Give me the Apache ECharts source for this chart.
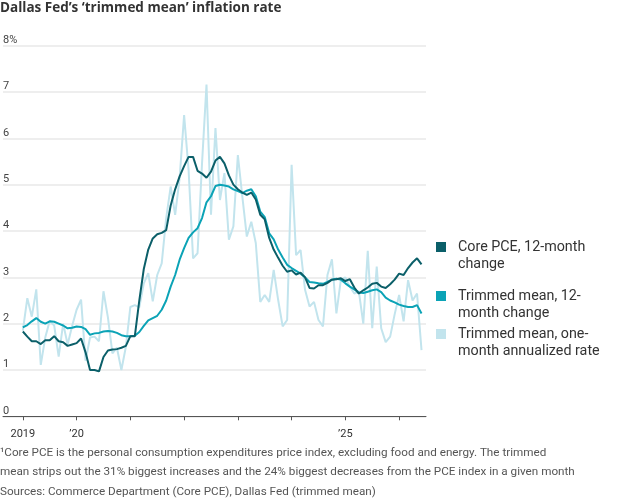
<!DOCTYPE html>
<html>
<head>
<meta charset="utf-8">
<script src="https://cdn.jsdelivr.net/npm/echarts@6/dist/echarts.min.js"></script>
<style>
html,body{margin:0;padding:0;background:#fff;}
#chart{width:620px;height:500px;}
</style>
</head>
<body>
<div id="chart"></div>
<script>
// Months since Jan 2019 (0 = Jan 2019)
var months = [];
for (var i = 0; i < 90; i++) months.push(i);

var corePCE = [1.83,1.72,1.62,1.62,1.56,1.64,1.64,1.73,1.62,1.60,1.52,1.55,
  1.58,1.68,1.38,1.00,1.00,0.97,1.28,1.42,1.44,1.45,1.48,1.52,
  1.73,1.73,2.50,3.18,3.60,3.84,3.93,3.96,4.02,4.55,4.90,5.18,
  5.40,5.60,5.60,5.30,5.24,5.15,5.28,5.52,5.60,5.46,5.20,5.00,
  4.90,4.83,4.78,4.83,4.68,4.35,4.25,3.85,3.60,3.42,3.25,3.12,
  3.15,3.06,3.10,3.00,2.77,2.76,2.83,2.83,2.88,2.95,2.96,2.98,
  2.92,2.96,2.78,2.65,2.72,2.78,2.86,2.88,2.80,2.77,2.85,2.95,
  3.08,3.05,3.20,3.32,3.41,3.28];

var trimmed12 = [1.92,1.97,2.05,2.12,2.04,2.00,2.05,2.04,2.00,1.96,1.90,1.91,
  1.94,1.93,1.88,1.76,1.79,1.80,1.83,1.84,1.83,1.80,1.75,1.73,
  1.73,1.74,1.82,1.95,2.07,2.12,2.17,2.30,2.50,2.80,3.05,3.38,
  3.63,3.85,3.97,4.06,4.28,4.62,4.75,4.97,5.00,4.98,4.96,4.90,
  4.86,4.82,4.87,4.90,4.75,4.42,4.30,3.95,3.82,3.60,3.43,3.27,
  3.20,3.14,3.08,3.00,2.90,2.89,2.87,2.86,2.90,2.95,2.97,2.95,
  2.87,2.80,2.74,2.67,2.66,2.69,2.72,2.74,2.68,2.56,2.50,2.46,
  2.41,2.38,2.36,2.36,2.40,2.22];

var trimmed1 = [1.85,2.55,2.15,2.74,1.11,1.70,2.06,1.96,1.29,2.00,1.55,1.95,
  2.30,2.52,1.20,1.70,1.72,1.62,2.70,2.13,1.36,1.48,1.00,1.50,
  2.36,2.40,2.35,2.87,3.09,2.48,3.05,3.30,4.28,4.96,4.35,5.14,
  6.50,5.32,3.41,3.52,5.46,7.16,4.35,6.22,4.67,5.25,3.81,4.10,
  5.64,4.74,3.88,4.20,3.74,2.47,2.62,2.47,3.16,2.51,1.94,2.08,
  5.43,3.48,3.59,2.73,2.37,2.47,2.08,1.94,3.05,3.39,2.22,2.95,
  3.00,2.80,2.65,2.70,2.00,3.57,1.90,3.23,1.90,1.60,1.72,2.20,
  2.62,2.05,2.94,2.50,2.65,1.43];

var yearTicks = [0,12,24,36,48,60,72,84];
var yearLabelPos = [0,12,72];
var yearLabelText = {0:'2019', 12:'\u201920', 72:'\u201925'};

var seriesNames = ['Core PCE, 12-month\nchange','Trimmed mean, 12-\nmonth change','Trimmed mean, one-\nmonth annualized rate'];
var colors = ['#0b5f69','#0ba3b6','#c2e4ed'];

function pairs(arr){ return months.map(function(m,i){ return [m, arr[i]]; }); }

var FONT = 'Roboto';
var chart = echarts.init(document.getElementById('chart'), null, {renderer:'canvas'});

var legendY = [242, 291, 329];
var legendGraphics = [];
seriesNames.forEach(function(n, i){
  legendGraphics.push({type:'rect', left:436, top:legendY[i], shape:{width:10,height:10}, style:{fill:colors[i]}});
  legendGraphics.push({type:'text', left:458, top:legendY[i]-3.5, style:{text:n, font:'14.3px '+FONT, fill:'#333', lineHeight:17.6}});
});

chart.setOption({
  animation:false,
  textStyle:{fontFamily:FONT},
  grid:{left:0, right:194, top:45.7, bottom:83.7, containLabel:false},
  xAxis:{
    type:'value', min:-4.43, max:90,
    axisLine:{show:true, lineStyle:{color:'#555', width:1}},
    axisTick:{show:true, length:4, lineStyle:{color:'#555'}, customValues:yearTicks},
    axisLabel:{show:true, customValues:yearLabelPos, formatter:function(v){ return yearLabelText[v] || ''; }, color:'#333', fontSize:11, fontFamily:FONT, margin:12},
    splitLine:{show:false}
  },
  yAxis:{
    type:'value', min:0, max:8, interval:1,
    axisLine:{show:false}, axisTick:{show:false},
    axisLabel:{inside:true, margin:0, verticalAlign:'bottom', padding:[0,0,0,0], color:'#444', fontSize:11, fontFamily:FONT,
      formatter:function(v){ return v===8 ? '8%' : String(v); }},
    splitLine:{show:true, lineStyle:{color:'#e9e9e9', width:1.5}}
  },
  series:[
    {name:seriesNames[2], type:'line', data:pairs(trimmed1), showSymbol:false, lineStyle:{color:colors[2], width:2}, z:1},
    {name:seriesNames[1], type:'line', data:pairs(trimmed12), showSymbol:false, lineStyle:{color:colors[1], width:2}, z:2},
    {name:seriesNames[0], type:'line', data:pairs(corePCE), showSymbol:false, lineStyle:{color:colors[0], width:2}, z:3}
  ],
  title:{text:'Dallas Fed\u2019s \u2018trimmed mean\u2019 inflation rate', left:0, top:1, padding:0,
    textStyle:{fontSize:13.5, fontWeight:'bold', color:'#333', fontFamily:'Open Sans'}},
  graphic:legendGraphics.concat([
    {type:'text', left:0, top:443, style:{text:'\u00b9Core PCE is the personal consumption expenditures price index, excluding food and energy. The trimmed\nmean strips out the 31% biggest increases and the 24% biggest decreases from the PCE index in a given month\nSources: Commerce Department (Core PCE), Dallas Fed (trimmed mean)', font:'11.7px '+FONT, fill:'#555', lineHeight:19.5}}
  ])
});
</script>
</body>
</html>
